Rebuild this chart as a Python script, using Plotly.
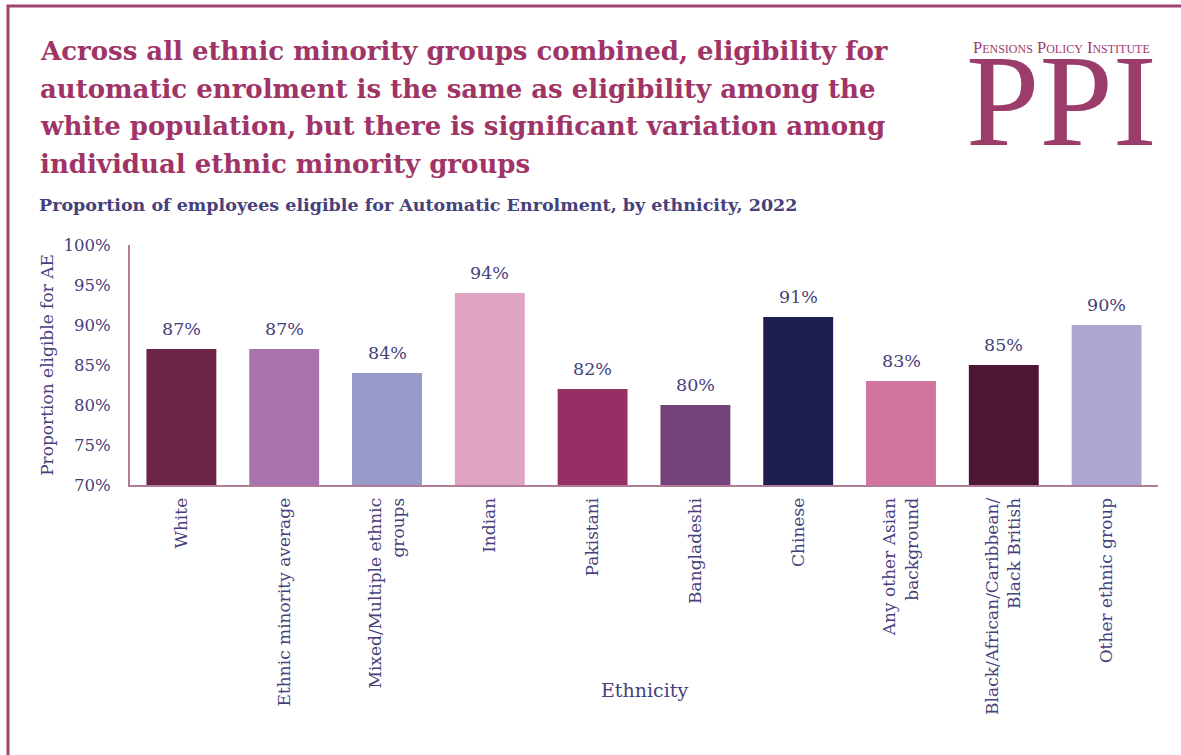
import plotly.graph_objects as go

# Eligibility for automatic enrolment by ethnicity, 2022
categories = [
    "White",
    "Ethnic minority average",
    "Mixed/Multiple ethnic<br>groups",
    "Indian",
    "Pakistani",
    "Bangladeshi",
    "Chinese",
    "Any other Asian<br>background",
    "Black/African/Caribbean/<br>Black British",
    "Other ethnic group",
]
eligible_pct = [87, 87, 84, 94, 82, 80, 91, 83, 85, 90]
bar_colours = [
    "#6B2346", "#A974AE", "#979BC9", "#E0A4C3", "#962F63",
    "#744379", "#1F1F4F", "#D174A0", "#4D1733", "#ABA7D0",
]
y_ticks = [70, 75, 80, 85, 90, 95, 100]

title_lines = [
    "Across all ethnic minority groups combined, eligibility for",
    "automatic enrolment is the same as eligibility among the",
    "white population, but there is significant variation among",
    "individual ethnic minority groups",
]
subtitle = "Proportion of employees eligible for Automatic Enrolment, by ethnicity, 2022"

W, H = 1181, 755
M_L, M_R, M_T, M_B = 130, 23, 245, 270
FONT = "DejaVu Serif"
LOGO_FONT = "Liberation Serif"
TEXT_COL = "#46417A"
TITLE_COL = "#A03466"
LOGO_COL = "#9B3C6A"
AXIS_COL = "#B07C97"


def px_x(x):
    return (x - M_L) / (W - M_L - M_R)


def px_y(y):
    return (H - M_B - y) / (H - M_T - M_B)


fig = go.Figure(
    go.Bar(
        x=categories,
        y=eligible_pct,
        marker=dict(color=bar_colours, line=dict(width=0)),
        hoverinfo="x+y",
    )
)

# Value labels above each bar
for cat, val in zip(categories, eligible_pct):
    fig.add_annotation(
        x=cat, y=val, text=f"{val}%", xref="x", yref="y",
        yanchor="bottom", yshift=8, showarrow=False,
        font=dict(family=FONT, size=17.5, color=TEXT_COL),
    )

fig.update_layout(
    width=W,
    height=H,
    margin=dict(l=M_L, r=M_R, t=M_T, b=M_B),
    paper_bgcolor="white",
    plot_bgcolor="white",
    showlegend=False,
    bargap=0.32,
    font=dict(family=FONT, color=TEXT_COL, size=16),
    xaxis=dict(
        tickangle=-90,
        showline=True,
        linecolor=AXIS_COL,
        linewidth=2,
        ticks="",
        ticklabelstandoff=4,
        tickfont=dict(family=FONT, size=17, color=TEXT_COL),
    ),
    yaxis=dict(
        range=[70, 100],
        tickvals=y_ticks,
        ticktext=[f"{v}%" for v in y_ticks],
        showgrid=False,
        zeroline=False,
        showline=True,
        linecolor=AXIS_COL,
        linewidth=2,
        ticks="",
        ticklabelstandoff=14,
        tickfont=dict(family=FONT, size=16.5, color=TEXT_COL),
        title=dict(text="Proportion eligible for AE", font=dict(family=FONT, size=17, color=TEXT_COL), standoff=6),
    ),
)

# X-axis title
fig.add_annotation(
    text="Ethnicity", xref="paper", yref="paper",
    x=px_x(644), y=px_y(690), xanchor="center", yanchor="middle",
    showarrow=False, font=dict(family=FONT, size=19, color=TEXT_COL),
)

# Frame around the page
fig.add_shape(
    type="rect", xref="paper", yref="paper",
    x0=px_x(8), x1=px_x(1190), y0=px_y(762), y1=px_y(6),
    line=dict(color="#A0446F", width=3), layer="below",
)

# Headline, one annotation per line for the wider line spacing
for i, line in enumerate(title_lines):
    fig.add_annotation(
        text=f"<b>{line}</b>", xref="paper", yref="paper",
        x=px_x(38), y=px_y(51 + 37.5 * i), xanchor="left", yanchor="middle", align="left",
        showarrow=False, font=dict(family=FONT, size=26, color=TITLE_COL),
    )
fig.add_annotation(
    text=f"<b>{subtitle}</b>", xref="paper", yref="paper",
    x=px_x(37), y=px_y(205), xanchor="left", yanchor="middle", align="left",
    showarrow=False, font=dict(family=FONT, size=17.5, color=TEXT_COL),
)

# Logo
fig.add_annotation(
    text="Pensions Policy Institute", xref="paper", yref="paper",
    x=px_x(1061), y=px_y(47), xanchor="center", yanchor="middle",
    showarrow=False,
    font=dict(family=LOGO_FONT, size=16.5, color=LOGO_COL, variant="small-caps"),
)
fig.add_annotation(
    text="PPI", xref="paper", yref="paper",
    x=px_x(1061), y=px_y(101), xanchor="center", yanchor="middle",
    showarrow=False, font=dict(family=LOGO_FONT, size=132, color=LOGO_COL),
)

fig.write_html("out.html")
